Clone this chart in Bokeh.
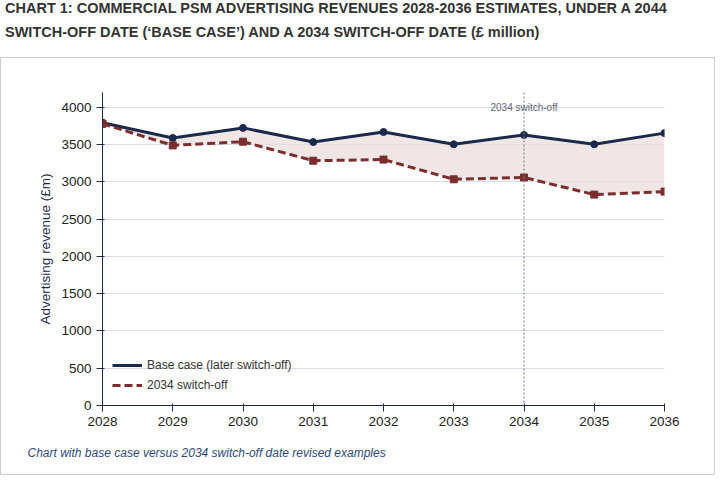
from bokeh.plotting import figure
from bokeh.models import Div, Span, Label, Legend, Title, Range1d
from bokeh.layouts import column
from bokeh.embed import file_html
from bokeh.resources import INLINE

years = [2028, 2029, 2030, 2031, 2032, 2033, 2034, 2035, 2036]
base_case = [3795, 3590, 3725, 3535, 3670, 3505, 3630, 3505, 3655]
switch_2034 = [3780, 3490, 3540, 3285, 3300, 3035, 3060, 2830, 2870]

title = Div(text="CHART 1: COMMERCIAL PSM ADVERTISING REVENUES 2028-2036 ESTIMATES, UNDER A 2044 SWITCH-OFF DATE (‘BASE CASE’) AND A 2034 SWITCH-OFF DATE (£ million)",
            width=711, height=56,
            styles={"font-family": "Liberation Sans", "font-weight": "bold", "font-size": "14.5px",
                    "color": "#333", "line-height": "24px", "margin-top": "-4px"})

p = figure(width=713, height=416, output_backend="svg", toolbar_location=None,
           x_range=Range1d(2028, 2036), y_range=Range1d(0, 4200),
           min_border_left=101, min_border_right=50, min_border_top=34, min_border_bottom=46)
p.outline_line_color = None
p.background_fill_color = "white"
p.border_fill_color = "white"

p.varea(x=years, y1=switch_2034, y2=base_case, fill_color="#e9dcdc", fill_alpha=0.7)
r1 = p.line(years, base_case, line_color="#1b2a4a", line_width=3)
p.scatter(years, base_case, size=7, color="#1b2a4a")
r2 = p.line(years, switch_2034, line_color="#7a2e2e", line_width=3, line_dash="8 4")
p.scatter(years, switch_2034, size=7, marker="square", color="#7a2e2e")

p.add_layout(Span(location=2034, dimension="height", line_color="#888", line_dash="2 2", line_width=1.2))
p.add_layout(Label(x=2034, y=4000, text="2034 switch-off", text_align="center", text_baseline="bottom",
                   text_font_size="10px", text_color="#667", y_offset=-6, text_font="Liberation Sans"))

leg = Legend(items=[("Base case (later switch-off)", [r1]), ("2034 switch-off", [r2])],
             location="bottom_left", background_fill_alpha=0, border_line_color=None,
             label_text_font_size="12px", label_text_font="Liberation Sans", label_text_color="#333",
             spacing=0, padding=4, glyph_width=30)
p.add_layout(leg)

p.xaxis.ticker = years
p.yaxis.ticker = list(range(0, 4001, 500))
p.xgrid.grid_line_color = None
p.ygrid.grid_line_color = "#d8dce6"
for ax in (p.xaxis[0], p.yaxis[0]):
    ax.major_label_text_font_size = "13.5px"
    ax.major_label_text_font = "Liberation Sans"
    ax.major_label_text_color = "#222"
    ax.axis_line_color = "#1b2a4a"
    ax.major_tick_line_color = "#1b2a4a"
    ax.minor_tick_line_color = None
p.yaxis.axis_label = "Advertising revenue (£m)"
p.yaxis.axis_label_text_font_style = "normal"
p.yaxis.axis_label_text_font = "Liberation Sans"
p.yaxis.axis_label_text_font_size = "13.5px"
p.yaxis.axis_label_text_color = "#1b2a4a"

p.add_layout(Title(text="Chart with base case versus 2034 switch-off date revised examples",
                   text_font_style="italic", text_font_size="12px", text_font="Liberation Sans",
                   text_color="#2e4a7a", offset=-75, standoff=30), "below")

box = column(p, styles={"border": "1px solid #ccc"})
page = column(title, box)
open("out.html", "w").write(file_html(page, INLINE))
